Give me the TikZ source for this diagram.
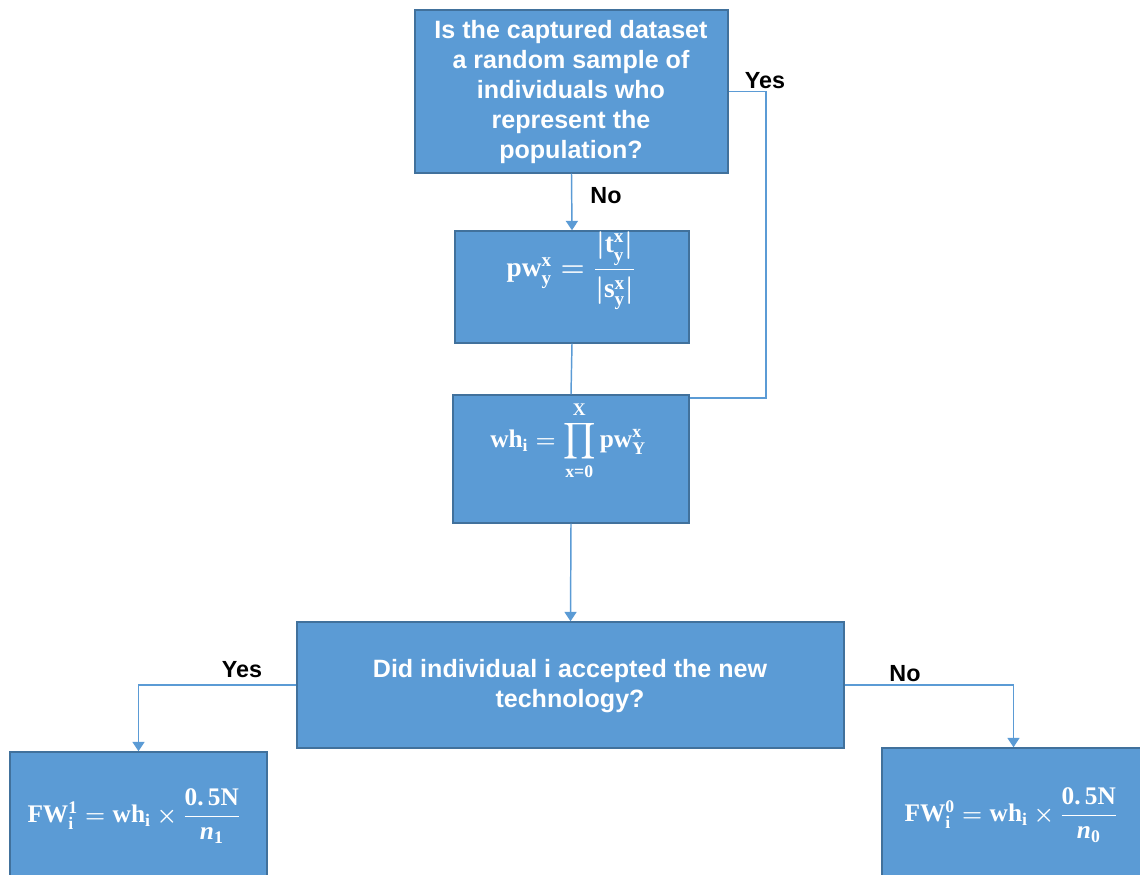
\documentclass[tikz,border=0pt]{standalone}
\usepackage{amsmath,amssymb}
\usepackage{fontspec}
\setmainfont{Liberation Sans}
\newfontfamily\mathserif{Liberation Serif}
\usetikzlibrary{arrows.meta,calc}
\definecolor{boxfill}{HTML}{5B9BD5}
\definecolor{boxline}{HTML}{41719C}
\definecolor{linkcol}{HTML}{5B9BD5}
% bold serif letters inside formulas
\newcommand{\bs}[1]{\text{\mathserif\bfseries #1}}
\newcommand{\bsi}[1]{\text{\mathserif\bfseries\itshape #1}}
\begin{document}
\begin{tikzpicture}[x=0.75pt,y=-0.75pt,
  box/.style={draw=boxline,fill=boxfill,line width=1.1pt,rectangle,inner sep=0pt},
  qtext/.style={text=white,font=\bfseries\fontsize{18.8}{22.5}\selectfont,align=center},
  ftext/.style={text=white,font=\boldmath\fontsize{19}{22}\selectfont},
  lab/.style={text=black,font=\bfseries\fontsize{17.5}{20}\selectfont},
  link/.style={draw=linkcol,line width=1.1pt},
  arr/.style={link,-{Triangle[width=9pt,length=7pt]}}]
\useasboundingbox (0,0) rectangle (1140,875);
\clip (0,0) rectangle (1140,875);
% boxes
\node[box,minimum width=234.75pt,minimum height=122.25pt] (b1) at (571.5,91.5) {};
\node[box,minimum width=175.5pt,minimum height=84pt] (b2) at (572,287) {};
\node[box,minimum width=177pt,minimum height=96pt] (b3) at (571,459) {};
\node[box,minimum width=410.25pt,minimum height=94.5pt] (b4) at (570.5,685) {};
\node[box,minimum width=192.75pt,minimum height=96pt] (b5) at (138.5,816) {};
\node[box,minimum width=197.25pt,minimum height=99pt] (b6) at (1013.5,814) {};
% texts inside the boxes
\node[qtext] (t1) at (571,92) {Is the captured dataset\\a random sample of\\individuals who\\represent the\\population?};
\node[ftext,font=\boldmath\fontsize{20.5}{24}\selectfont] (t2) at (571,271) {$\bs{pw}_{\bs{y}}^{\bs{x}} = \dfrac{|\bs{t}_{\bs{y}}^{\bs{x}}|}{|\bs{s}_{\bs{y}}^{\bs{x}}|}$};
\node[ftext] (t3) at (568,441) {$\bs{wh}_{\bs{i}} = \displaystyle\prod_{\bs{x=0}}^{\bs{X}} \bs{pw}_{\bs{Y}}^{\bs{x}}$};
\node[qtext] (t4) at (570,686) {Did individual i accepted the new\\technology?};
\node[ftext] (t5) at (134,816) {$\bs{FW}_{\bs{i}}^{\bs{1}} = \bs{wh}_{\bs{i}} \times \dfrac{\bs{0.\,5N}}{\bsi{n}_{\bs{1}}}$};
\node[ftext] (t6) at (1011,815) {$\bs{FW}_{\bs{i}}^{\bs{0}} = \bs{wh}_{\bs{i}} \times \dfrac{\bs{0.\,5N}}{\bsi{n}_{\bs{0}}}$};
% connectors
\coordinate (yc) at (766,398);
\draw[arr] (b1.south) -- (b2.north);
\draw[link] (b2.south) -- (b3.north);
\draw[link] (b1.east) -| (yc) -- (yc -| b3.east);
\draw[arr] (b3.south) -- (b4.north);
\draw[arr] (b4.west) -| (b5.north);
\draw[arr] (b4.east) -| (b6.north);
% branch labels
\node[lab] (l1) at (606,196) {No};
\node[lab] (l2) at (765,81) {Yes};
\node[lab] (l3) at (242,670) {Yes};
\node[lab] (l4) at (905,674) {No};
\end{tikzpicture}
\end{document}
